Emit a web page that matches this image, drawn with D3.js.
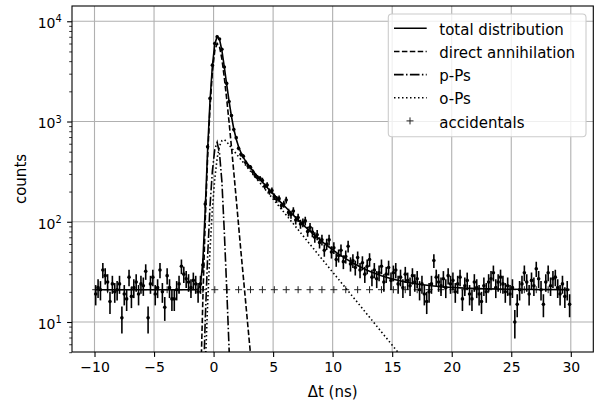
<!DOCTYPE html>
<html><head><meta charset="utf-8">
<script src="https://cdn.jsdelivr.net/npm/d3@7"></script>
<style>
body{margin:0;background:#fff}
svg{display:block}
text{font-family:"DejaVu Sans",sans-serif;fill:#000}
</style>
</head><body>
<svg id="c" width="600" height="405"></svg>
<script>
// ---------------- data ----------------
// measured counts per 0.2 ns bin, bin centres -9.9 ... 29.9
const binFirst = -9.9, binWidth = 0.2;
const counts = [
  19,22,21,33,29,25,16,24,20,21,24,11,19,17,28,18,22,25,19,24,23,32,11,24,28,19,22,33,20,14,29,22,17,17,21,24,36,30,27,25,22,26,24,20,
  24,37,150,560,1700,3650,6000,7000,6650,5250,3500,2400,1580,1150,830,690,540,470,450,390,360,350,315,290,
  275,270,
  258,226,232,200,205,
  178,168,170,145,150,
  165,124,118,128,104,
  110,95,98,102,80,
  88,79,70,74,62,
  66,52,60,66,50,
  55,42,46,52,40,
  45,57,38,41,35,
  44,33,39,30,36,
  42,28,33,27,31,
  36,25,30,35,26,
  31,33,24,28,22,
  30,26,23,29,25,
  27,21,24,19,16,
  20,24,41,28,25,
  23,27,22,29,24,
  26,
  20,24,28,17,
  23,26,19,17,25,
  22,19,16,23,20,
  25,27,31,22,25,
  28,24,20,23,19,
  22,10,15,21,24,
  31,25,19,26,23,
  34,27,21,15,25,
  31,23,27,28,22,
  19,24,18,21,15
];

// fitted curves
const totalT = [-9.9,-1.5,-1.3,-1.1,-0.9,-0.7,-0.5,-0.3,-0.1,0.1,0.3,0.5,0.7,0.9,1.1,1.3,1.5,1.7,1.9,2.1,2.3,2.5,2.7,2.9,3.1,3.3,3.5,3.7,3.9,4.1,4.5,4.9,5.3,5.7,6.1,6.5,6.9,7.3,7.7,8.1,8.5,8.9,9.3,9.7,10.1,10.5,10.9,11.3,11.7,12.1,12.5,12.9,13.3,13.7,14.1,14.5,15.1,16.1,17.1,18.1,19.1,20.1,21.1,22.1,23.1,25.1,27.1,29.9];
const totalV = [21,21,21.2,23.4,40,135,520,1600,3600,5900,7050,6600,5100,3500,2350,1600,1128,841,668,559,488,439,400,371,345,322,301,282,265,249,220,195,174,154,138,123,110,99,89,81,73,67,61,56,51.5,47.6,44.3,41.4,38.8,36.6,34.6,32.9,31.4,30.1,28.9,27.9,26.7,25.1,23.9,23.1,22.5,22.1,21.75,21.54,21.38,21.2,21.1,21.04];

const directT = [-1.3,-1.1,-0.9,-0.7,-0.5,-0.3,-0.1,0.1,0.3,0.5,0.7,0.9,1.1,1.3,1.5,1.7,1.9,2.1,2.3,2.5,2.7,2.9,3.1,3.3,3.5];
const directV = [0.18,2.1,17,102,440,1380,3130,5100,6000,5550,4200,2750,1680,990,560,310,170,92,50,28,15.5,8.6,4.8,2.7,1.5];

const ppsT = [-1.1,-0.9,-0.7,-0.5,-0.3,-0.1,0.1,0.3,0.5,0.7,0.9,1.1,1.3,1.5];
const ppsV = [0.2,1.7,10.5,45,143,322,526,620,480,250,80,22,5.5,1.3];

const opsT = [-0.9,-0.7,-0.5,-0.3,-0.1,0.1,0.3,0.5,0.7,0.9,1.1,1.3,1.5,1.7,1.9,2.1,2.5,3.1,4.1,5.1,6.1,8.1,10.1,12.1,14.1,16.1,18.1,20.1];
const opsV = [0.6,3.5,15,52,135,268,430,570,645,660,630,583,546,510,477,446,390,319,228,163,116.6,59.5,30.4,15.6,7.96,4.06,2.07,1.06];

const accT = [-9.9,-8.9,-7.9,-6.9,-5.9,-4.9,-3.9,-2.9,-1.9,-0.9,0.1,1.1,2.1,3.1,4.1,5.1,6.1,7.1,8.1,9.1,10.1,11.1,12.1,13.1,14.1,15.1,16.1,17.1,18.1,19.1,20.1,21.1,22.1,23.1,24.1,25.1,26.1,27.1,28.1,29.1];
const accV = accT.map(() => 21);

const xTicks = [-10,-5,0,5,10,15,20,25,30];
const yTicks = [10,100,1000,10000];
const yMinor = [5,6,7,8,9,20,30,40,50,60,70,80,90,200,300,400,500,600,700,800,900,2000,3000,4000,5000,6000,7000,8000,9000];
const legendLabels = ["total distribution","direct annihilation","p-Ps","o-Ps","accidentals"];

// ---------------- chart ----------------
const L = 72, R = 593.3, T = 6, B = 352;
const svg = d3.select("#c");
const x = d3.scaleLinear().domain([-11.89, 31.89]).range([L, R]);
const y = d3.scaleLog().domain([5.02, 14200]).range([B, T]);

svg.append("defs").append("clipPath").attr("id","clip")
  .append("rect").attr("x",L).attr("y",T).attr("width",R-L).attr("height",B-T);

// grid
const grid = svg.append("g");
grid.selectAll(".gx").data(xTicks).join("line")
  .attr("x1",d=>x(d)).attr("x2",d=>x(d)).attr("y1",T).attr("y2",B)
  .attr("stroke","#b0b0b0").attr("stroke-width",1.1);
grid.selectAll(".gy").data(yTicks).join("line")
  .attr("y1",d=>y(d)).attr("y2",d=>y(d)).attr("x1",L).attr("x2",R)
  .attr("stroke","#b0b0b0").attr("stroke-width",1.1);

const plot = svg.append("g").attr("clip-path","url(#clip)");
const lineOf = (ts, vs) => d3.line().x((d,i)=>x(ts[i])).y(d=>y(Math.max(d,1e-3)))(vs);

// accidentals markers
const acc = plot.append("g");
accT.forEach((t,i)=>{
  const cx = x(t), cy = y(accV[i]);
  acc.append("path").attr("d",`M${cx-3.5},${cy}H${cx+3.5}M${cx},${cy-3.5}V${cy+3.5}`)
    .attr("stroke","#222").attr("stroke-width",1).attr("fill","none");
});

// data with error bars (Poisson sqrt(N))
const binT = counts.map((c,i)=> binFirst + binWidth*i);
const dg = plot.append("g");
dg.selectAll("line").data(counts).join("line")
  .attr("x1",(d,i)=>x(binT[i])).attr("x2",(d,i)=>x(binT[i]))
  .attr("y1",d=>y(Math.max(d-Math.sqrt(d),1e-3))).attr("y2",d=>y(d+Math.sqrt(d)))
  .attr("stroke","#000").attr("stroke-width",1.6);
dg.selectAll("circle").data(counts).join("circle")
  .attr("cx",(d,i)=>x(binT[i])).attr("cy",d=>y(d)).attr("r",1.8).attr("fill","#000");

// curves
const styles = [
  {ts: totalT, vs: totalV, dash: null},
  {ts: directT, vs: directV, dash: "5.5,2.4"},
  {ts: ppsT, vs: ppsV, dash: "9.6,2.4,1.5,2.4"},
  {ts: opsT, vs: opsV, dash: "1.5,2.5"}
];
styles.forEach(s=>{
  plot.append("path").attr("d",lineOf(s.ts,s.vs)).attr("fill","none")
    .attr("stroke","#000").attr("stroke-width",1.6)
    .attr("stroke-dasharray",s.dash);
});

// frame
svg.append("rect").attr("x",L).attr("y",T).attr("width",R-L).attr("height",B-T)
  .attr("fill","none").attr("stroke","#000").attr("stroke-width",1.1);

// x axis
const xa = svg.append("g").attr("transform",`translate(0,${B})`)
  .call(d3.axisBottom(x).tickValues(xTicks).tickSize(4.9).tickPadding(4.9)
    .tickFormat(d=> d<0 ? "\u2212"+Math.abs(d) : String(d)));
xa.select(".domain").remove();
xa.selectAll("line").attr("stroke","#000").attr("stroke-width",1.1);
xa.selectAll("text").attr("font-size",14).attr("font-family","DejaVu Sans").attr("fill","#000");

// y axis major
const ya = svg.append("g").attr("transform",`translate(${L},0)`)
  .call(d3.axisLeft(y).tickValues(yTicks).tickSize(4.9).tickPadding(4.9).tickFormat(""));
ya.select(".domain").remove();
ya.selectAll("line").attr("stroke","#000").attr("stroke-width",1.1);
ya.selectAll(".tick").each(function(d){
  const t = d3.select(this).select("text")
    .attr("font-size",14).attr("font-family","DejaVu Sans").attr("fill","#000")
    .attr("x",-10.3).attr("dy",null).attr("y",6.3).attr("text-anchor","end");
  t.text(null);
  t.append("tspan").text("10");
  t.append("tspan").attr("font-size",9.8).attr("dy",-5.8).text(String(Math.round(Math.log10(d))));
});
// y axis minor
const ym = svg.append("g").attr("transform",`translate(${L},0)`)
  .call(d3.axisLeft(y).tickValues(yMinor).tickSize(2.8).tickFormat(""));
ym.select(".domain").remove();
ym.selectAll("line").attr("stroke","#000").attr("stroke-width",0.8);

// axis labels
svg.append("text").attr("x",(L+R)/2).attr("y",397).attr("text-anchor","middle")
  .attr("font-size",15).text("\u0394t (ns)");
svg.append("text").attr("transform",`translate(25.5,${(T+B)/2}) rotate(-90)`)
  .attr("text-anchor","middle").attr("font-size",15).text("counts");

// legend
const lg = svg.append("g");
lg.append("rect").attr("x",388.3).attr("y",14).attr("width",586-388.3).attr("height",136.7-14)
  .attr("rx",3.5).attr("fill","#fff").attr("fill-opacity",0.8)
  .attr("stroke","#cccccc").attr("stroke-width",1.1);
const dashes = [null,"5.5,2.4","9.6,2.4,1.5,2.4","1.5,2.5",null];
legendLabels.forEach((lab,i)=>{
  const base = 35 + 23.15*i, ly = base - 6.7;
  if(i<4){
    lg.append("line").attr("x1",394).attr("x2",426.7).attr("y1",ly).attr("y2",ly)
      .attr("stroke","#000").attr("stroke-width",1.6).attr("stroke-dasharray",dashes[i]);
  } else {
    lg.append("path").attr("d",`M${410-3.5},${ly}H${410+3.5}M410,${ly-3.5}V${ly+3.5}`)
      .attr("stroke","#222").attr("stroke-width",1);
  }
  lg.append("text").attr("x",439.3).attr("y",base).attr("font-size",15).text(lab);
});
</script>
</body></html>
